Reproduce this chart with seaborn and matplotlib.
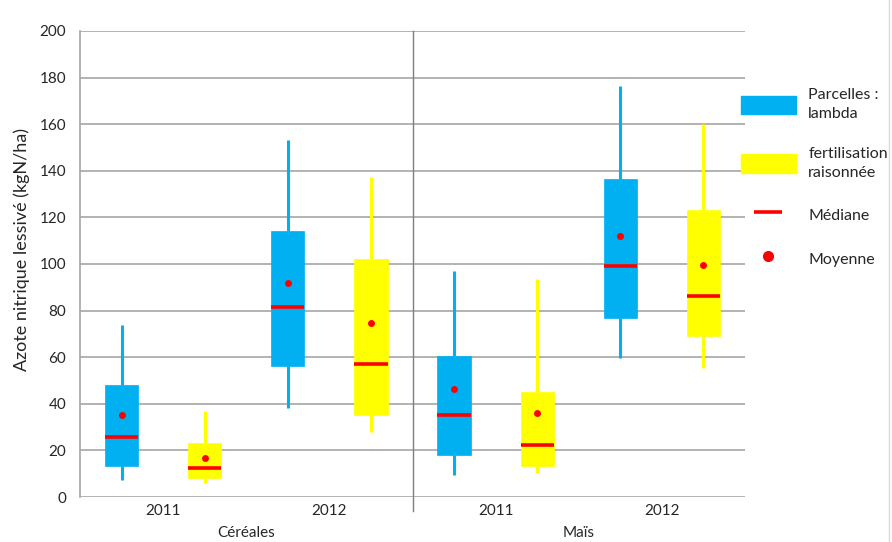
import numpy as np
import pandas as pd
import matplotlib.pyplot as plt
import seaborn as sns
from matplotlib.patches import Patch
from matplotlib.lines import Line2D

# Categories
cultures = ['Céréales', 'Maïs']
annees = ['2011', '2012']
parcelles = ['lambda', 'raisonnée']

# Box statistics per parcelle, order: Céréales 2011, Céréales 2012, Maïs 2011, Maïs 2012
lambda_min = [7.4, 38.2, 9.6, 59.6]
lambda_q1 = [13.2, 56.1, 18.1, 77.0]
lambda_med = [25.6, 81.6, 35.0, 99.3]
lambda_q3 = [48.0, 114.0, 60.7, 136.6]
lambda_max = [73.6, 153.3, 96.9, 176.3]
lambda_moy = [35.1, 91.7, 46.2, 112.1]

rais_min = [5.9, 28.1, 10.1, 55.4]
rais_q1 = [8.1, 35.4, 13.2, 69.0]
rais_med = [12.4, 57.2, 22.2, 86.1]
rais_q3 = [23.1, 102.0, 44.9, 123.0]
rais_max = [36.7, 137.3, 93.6, 160.0]
rais_moy = [16.9, 74.8, 36.0, 99.7]

couleurs = {'lambda': '#00b0f0', 'raisonnée': '#ffff00'}
legende = ['Parcelles :\nlambda', 'fertilisation\nraisonnée', 'Médiane', 'Moyenne']

stats = {
    'lambda': [lambda_min, lambda_q1, lambda_med, lambda_q3, lambda_max, lambda_moy],
    'raisonnée': [rais_min, rais_q1, rais_med, rais_q3, rais_max, rais_moy],
}

# build long tables (five summary values per box -> exact quartiles)
rows, moys, ordre = [], [], []
i = 0
for c in cultures:
    for a in annees:
        for p in parcelles:
            cle = f'{c} {a} {p}'
            ordre.append(cle)
            s = stats[p]
            for v in s[:5]:
                rows.append({'cle': cle, 'parcelle': p, 'valeur': v[i]})
            moys.append({'cle': cle, 'moyenne': s[5][i]})
        i += 1
df = pd.DataFrame(rows)
df_moy = pd.DataFrame(moys)

plt.rcParams['font.family'] = ['Lato', 'DejaVu Sans']
gris = '#a6a6a6'
texte = '#262626'

fig = plt.figure(figsize=(8.92, 5.42), dpi=100)
ax = fig.add_axes([0.0897, 0.083, 0.7455, 0.860])

for p in parcelles:
    sns.boxplot(data=df[df.parcelle == p], x='cle', y='valeur', order=ordre,
                color=couleurs[p], linecolor=couleurs[p], saturation=1,
                width=0.4, whis=(0, 100), showcaps=False,
                medianprops=dict(color='red', linewidth=2.6),
                whiskerprops=dict(linewidth=2.2),
                boxprops=dict(linewidth=0.5), ax=ax)

sns.stripplot(data=df_moy, x='cle', y='moyenne', order=ordre, color='red',
              size=5, jitter=False, zorder=5, ax=ax)

ax.set_xlim(-0.5, len(ordre) - 0.5)
ax.set_ylim(0, 200)
ax.set_yticks(np.arange(0, 201, 20))
ax.yaxis.grid(True, color=gris, linewidth=1.2)
ax.set_axisbelow(True)
for s in ['top', 'right', 'bottom']:
    ax.spines[s].set_visible(False)
ax.spines['left'].set_color(gris)
ax.spines['left'].set_linewidth(1.2)
ax.tick_params(axis='y', length=0, pad=10, labelsize=11, labelcolor=texte)
ax.tick_params(axis='x', length=0, labelbottom=False)
ax.set_xlabel('')
ax.set_ylabel('Azote nitrique lessivé (kgN/ha)', fontsize=13, color=texte)
ax.yaxis.set_label_coords(-0.075, 0.53)

# year and crop labels
k = 0
for c in cultures:
    for a in annees:
        ax.text(2 * k + 0.5, -0.03, a, transform=ax.get_xaxis_transform(),
                ha='center', va='center', fontsize=11, color=texte)
        k += 1
    ax.text(4 * cultures.index(c) + 1.5, -0.077, c, transform=ax.get_xaxis_transform(),
            ha='center', va='center', fontsize=11, color=texte)

ax.axvline(3.5, ymin=-0.03, ymax=1, color='#7f7f7f', linewidth=1, clip_on=False)

handles = [Patch(color=couleurs['lambda']), Patch(color=couleurs['raisonnée']),
           Line2D([], [], marker='_', markersize=20, mew=2.6, linestyle='None', color='red'),
           Line2D([], [], marker='o', markersize=7, linestyle='None', color='red')]
leg = fig.legend(handles, legende, loc='upper left', bbox_to_anchor=(0.822, 0.852),
                 frameon=False, fontsize=11.5, handlelength=3.4, handleheight=1.4,
                 handletextpad=0.8, labelspacing=1.6, labelcolor=texte, borderpad=0)
for t in leg.get_texts():
    t.set_linespacing(1.45)

fig.add_artist(Line2D([0.997, 0.997], [0, 1], color='#d9d9d9', linewidth=1))

fig.savefig('out.png', dpi=100)
